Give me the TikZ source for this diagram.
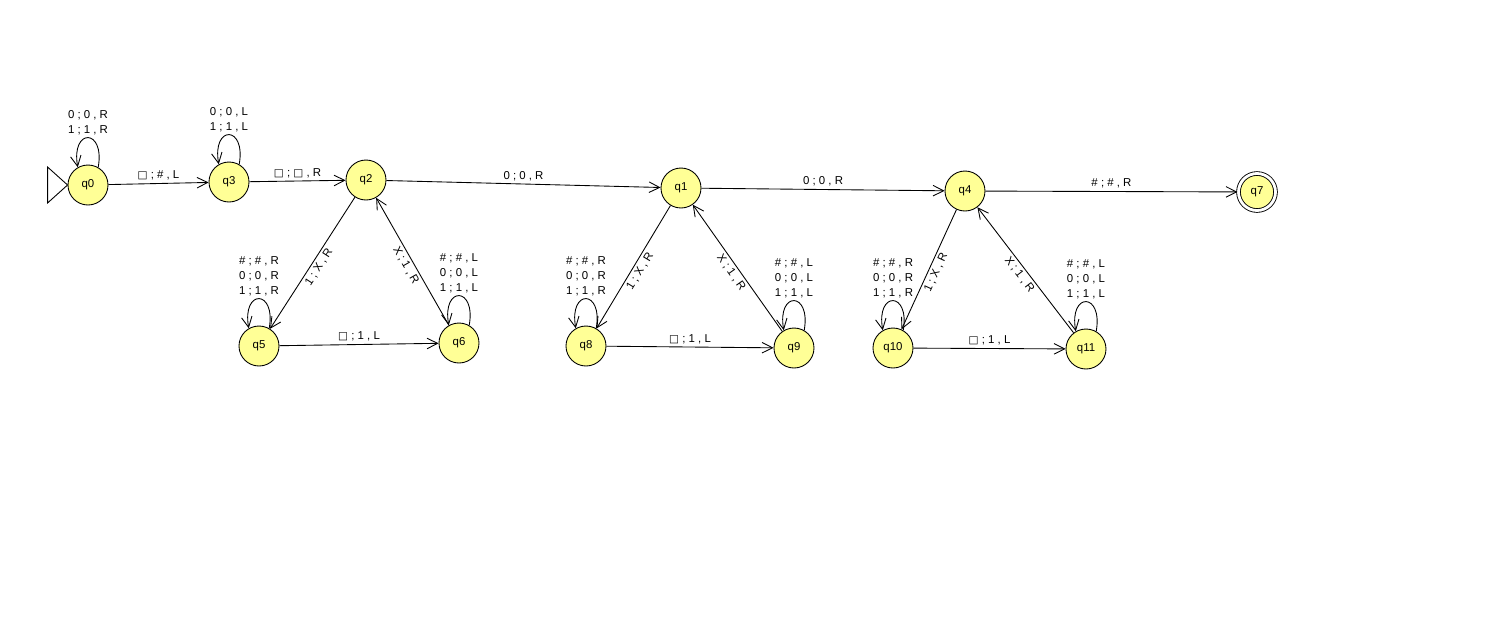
\documentclass[tikz,border=0pt]{standalone}
\usepackage{fontspec}
\setmainfont{Liberation Sans}
\newfontfamily\boxfont{DejaVu Sans}
\usepackage{tikz}
\usetikzlibrary{positioning,%
  automata,%
  arrows.meta}

\definecolor{jflap}{RGB}{255,255,150}
\newcommand{\blk}{{\boxfont\fontsize{6}{6}\selectfont □}}

\tikzset{
  tm/.style={state,fill=jflap,draw=black,line width=0.5pt,
    minimum size=0.8cm,inner sep=0pt,font=\fontsize{6.5}{8}\selectfont},
  lbl/.style={font=\fontsize{6.5}{8.5}\selectfont,align=center,inner sep=1.5pt},
  selfloop/.style={out=80,in=100,looseness=1,min distance=8mm}
}

\begin{document}
\begin{tikzpicture}[>={Straight Barb[length=6pt,width=6pt]},line width=0.5pt]
  \useasboundingbox (0,0) rectangle (30.18,-12.86);

  % states
  \node[tm] (q0) at (1.76,-3.70) {q0};
  \node[tm] (q3) at (4.58,-3.64) {q3};
  \node[tm] (q2) at (7.32,-3.60) {q2};
  \node[tm] (q1) at (13.62,-3.76) {q1};
  \node[tm] (q4) at (19.30,-3.82) {q4};
  \node[tm,accepting,double distance=1.6pt,minimum size=0.74cm] (q7) at (25.14,-3.84) {q7};
  \node[tm] (q5) at (5.18,-6.92) {q5};
  \node[tm] (q6) at (9.18,-6.86) {q6};
  \node[tm] (q8) at (11.72,-6.92) {q8};
  \node[tm] (q9) at (15.88,-6.96) {q9};
  \node[tm] (q10) at (17.86,-6.96) {q10};
  \node[tm] (q11) at (21.72,-6.98) {q11};

  % start marker
  \draw[fill=white] (q0.west) -- ++(-0.4,0.36) -- ++(0,-0.72) -- cycle;

  % main line
  \path[->] (q0) edge node[lbl,above] {\blk\ ; \# , L} (q3)
            (q3) edge node[lbl,above] {\blk\ ; \blk\ , R} (q2)
            (q2) edge node[lbl,above] {0 ; 0 , R} (q1)
            (q1) edge node[lbl,above] {0 ; 0 , R} (q4)
            (q4) edge node[lbl,above] {\# ; \# , R} (q7);

  % self loops on the main line
  \path[->] (q0.60) edge[selfloop] node[lbl,above] {0 ; 0 , R\\1 ; 1 , R} (q0.120)
            (q3.60) edge[selfloop] node[lbl,above] {0 ; 0 , L\\1 ; 1 , L} (q3.120);

  % the three triangles
  \foreach \top/\lft/\rgt in {q2/q5/q6,q1/q8/q9,q4/q10/q11}{
    \path[->] (\top) edge node[lbl,sloped,below] {1 ; X , R} (\lft)
              (\rgt) edge node[lbl,sloped,below] {X ; 1 , R} (\top)
              (\lft) edge node[lbl,above] {\blk\ ; 1 , L} (\rgt)
              (\lft.60) edge[selfloop] node[lbl,above] {\# ; \# , R\\0 ; 0 , R\\1 ; 1 , R} (\lft.120)
              (\rgt.60) edge[selfloop] node[lbl,above] {\# ; \# , L\\0 ; 0 , L\\1 ; 1 , L} (\rgt.120);
  }
\end{tikzpicture}
\end{document}
